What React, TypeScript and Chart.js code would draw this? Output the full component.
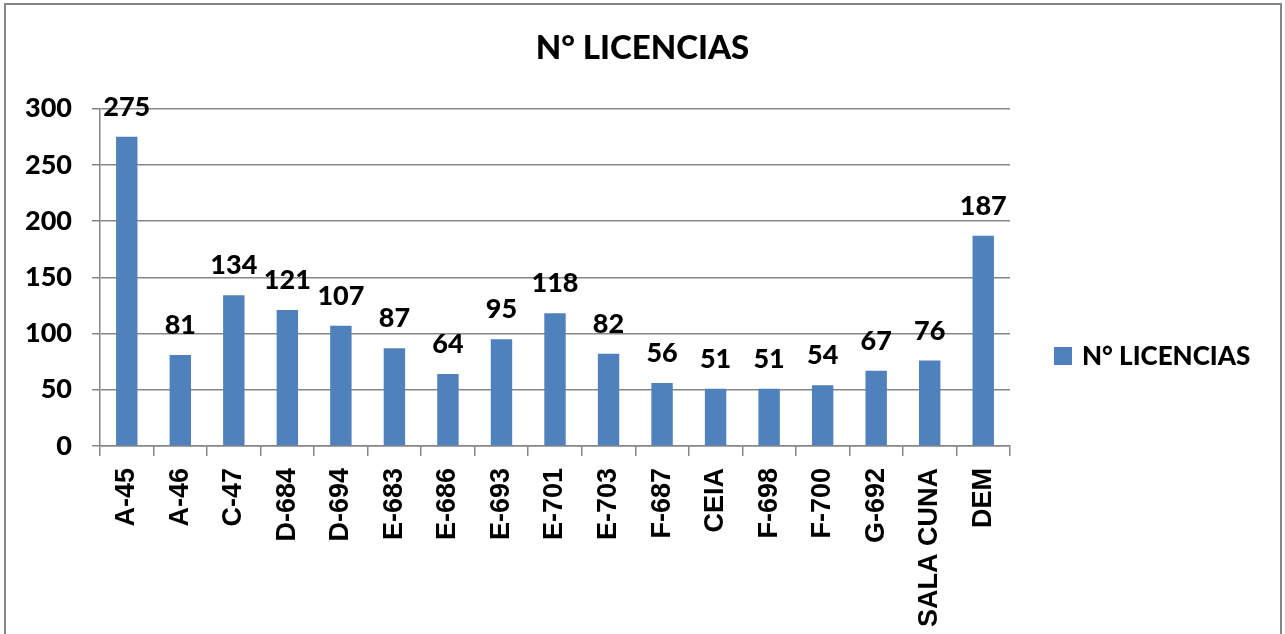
import React, { useEffect, useRef } from "react";
import { Chart, registerables } from "chart.js";

Chart.register(...registerables);

const categories = [
  "A-45", "A-46", "C-47", "D-684", "D-694", "E-683", "E-686", "E-693", "E-701",
  "E-703", "F-687", "CEIA", "F-698", "F-700", "G-692", "SALA CUNA", "DEM",
];
const licencias = [275, 81, 134, 121, 107, 87, 64, 95, 118, 82, 56, 51, 51, 54, 67, 76, 187];
const seriesLabel = "N° LICENCIAS";
const titleText = "N° LICENCIAS";
const yTicks = { min: 0, max: 300, step: 50 };

const BAR_COLOR = "#4F81BD";
const GRID_COLOR = "#868686";
const MAIN_FONT = "Lato";
const XLABEL_FONT = "Liberation Sans";
const WEIGHT = "900";

const frameAndLabels = {
  id: "frameAndLabels",
  beforeDraw(chart: any) {
    const ctx = chart.ctx;
    ctx.save();
    ctx.fillStyle = "#ffffff";
    ctx.fillRect(0, 0, chart.width, chart.height);
    ctx.strokeStyle = GRID_COLOR;
    ctx.lineWidth = 2;
    ctx.strokeRect(5, 4, chart.width - 9, chart.height + 20);
    ctx.restore();
  },
  afterDatasetsDraw(chart: any) {
    const ctx = chart.ctx;
    const meta = chart.getDatasetMeta(0);
    const data = chart.data.datasets[0].data;
    ctx.save();
    ctx.fillStyle = "#000000";
    ctx.font = `${WEIGHT} 27px ${MAIN_FONT}`;
    ctx.textAlign = "center";
    ctx.textBaseline = "alphabetic";
    meta.data.forEach((bar: any, i: number) => {
      ctx.fillText(String(data[i]), bar.x, bar.y - 21);
    });
    // legend
    const area = chart.chartArea;
    const lx = area.right + 44;
    const ly = 347;
    ctx.fillStyle = BAR_COLOR;
    ctx.fillRect(lx, ly, 18, 18);
    ctx.fillStyle = "#000000";
    ctx.font = `${WEIGHT} 26px ${MAIN_FONT}`;
    ctx.textAlign = "left";
    ctx.fillText(chart.data.datasets[0].label, lx + 28, ly + 18);
    ctx.restore();
  },
};

export default function App() {
  const canvasRef = useRef<HTMLCanvasElement | null>(null);

  useEffect(() => {
    let chart: Chart | null = null;
    let cancelled = false;
    const make = () => {
      if (cancelled || !canvasRef.current) return;
      chart = new Chart(canvasRef.current, {
        type: "bar",
        data: {
          labels: categories,
          datasets: [
            {
              label: seriesLabel,
              data: licencias,
              backgroundColor: BAR_COLOR,
              borderWidth: 0,
              barPercentage: 0.4,
              categoryPercentage: 1,
            },
          ],
        },
        options: {
          animation: false,
          responsive: false,
          maintainAspectRatio: false,
          layout: { padding: 0 },
          plugins: {
            legend: { display: false },
            tooltip: { enabled: false },
            title: {
              display: true,
              text: titleText,
              color: "#000000",
              font: { family: MAIN_FONT, size: 33, weight: WEIGHT, lineHeight: 1.2 },
              padding: { top: 29, bottom: 40 },
            },
          },
          scales: {
            x: {
              afterFit(scale: any) {
                scale.height = 188;
              },
              grid: {
                offset: true,
                drawOnChartArea: false,
                drawTicks: true,
                tickLength: 10,
                color: GRID_COLOR,
                lineWidth: 1.5,
              },
              border: { color: GRID_COLOR, width: 1.5 },
              ticks: {
                autoSkip: false,
                maxRotation: 90,
                minRotation: 90,
                padding: 12,
                color: "#000000",
                font: { family: XLABEL_FONT, size: 27, weight: "bold" },
              },
            },
            y: {
              min: yTicks.min,
              max: yTicks.max,
              afterFit(scale: any) {
                scale.width = 100;
              },
              grid: {
                color: GRID_COLOR,
                lineWidth: 1.5,
                tickLength: 8,
              },
              border: { color: GRID_COLOR, width: 1.5 },
              ticks: {
                stepSize: yTicks.step,
                padding: 20,
                color: "#000000",
                font: { family: MAIN_FONT, size: 27, weight: WEIGHT },
              },
            },
            legendSpace: {
              type: "linear",
              position: "right",
              display: true,
              afterFit(scale: any) {
                scale.width = 275;
              },
              grid: { display: false, drawTicks: false },
              border: { display: false },
              ticks: { display: false },
            },
          },
        },
        plugins: [frameAndLabels],
      } as any);
    };
    Promise.all([
      document.fonts.load(`${WEIGHT} 27px ${MAIN_FONT}`),
      document.fonts.load(`bold 27px ${XLABEL_FONT}`),
    ])
      .catch(() => {})
      .then(make);
    return () => {
      cancelled = true;
      if (chart) chart.destroy();
    };
  }, []);

  return (
    <div style={{ position: "absolute", left: 0, top: 0, width: 1285, height: 634 }}>
      <canvas ref={canvasRef} width={1285} height={634} style={{ display: "block" }} />
    </div>
  );
}
